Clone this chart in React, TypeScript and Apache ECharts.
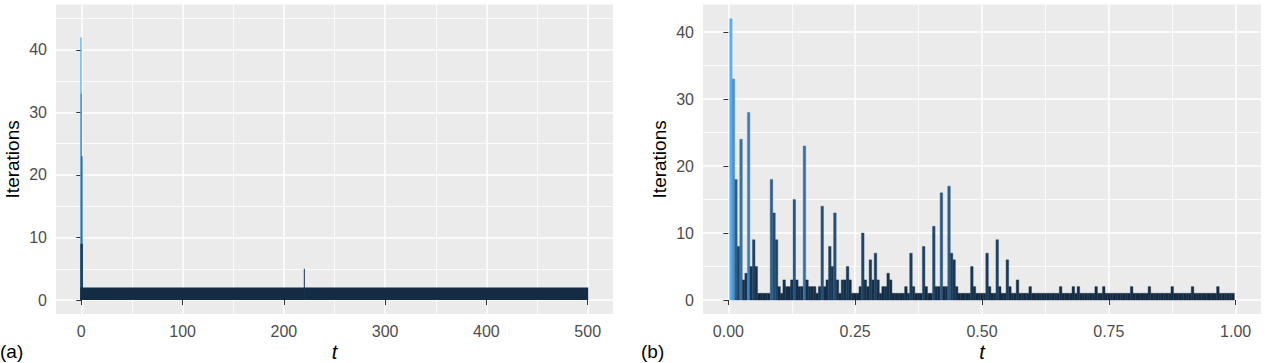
import React, { useEffect, useRef } from "react";
import * as echarts from "echarts";

// ---------- Data ----------
// Panel (a): time segments [start, end] with iteration counts (t from 0 to 500)
const A_START = [-1.0, -0.7, -0.4, -1.0, -1.0, 219.7];
const A_END = [0.3, 0.6, 1.3, 1.6, 500.5, 220.7];
const A_ITER = [42, 33, 23, 9, 2, 5];
const A_X_TICKS = [0, 100, 200, 300, 400, 500];

// Panel (b): one bar per time step (dt = 0.005), t from 0.005 to 0.995
const B_DT = 0.005;
const B_ITER = [
  42, 33, 18, 8, 24, 3, 4, 28, 5, 9,
  5, 1, 1, 1, 1, 1, 18, 13, 9, 2,
  1, 3, 2, 2, 3, 15, 3, 2, 2, 23,
  3, 2, 2, 2, 1, 2, 14, 2, 3, 8,
  5, 13, 3, 1, 3, 3, 5, 3, 1, 1,
  1, 2, 10, 3, 2, 6, 3, 7, 3, 1,
  2, 2, 4, 3, 1, 1, 1, 1, 1, 2,
  1, 7, 2, 1, 1, 1, 8, 2, 1, 1,
  11, 2, 2, 16, 2, 2, 17, 7, 6, 2,
  1, 1, 1, 1, 1, 5, 2, 1, 1, 1,
  1, 7, 2, 1, 1, 9, 2, 1, 1, 6,
  2, 1, 1, 3, 1, 1, 1, 1, 2, 1,
  1, 1, 1, 1, 1, 1, 1, 1, 1, 1,
  2, 1, 1, 1, 1, 2, 1, 2, 1, 1,
  1, 1, 1, 1, 2, 1, 1, 2, 1, 1,
  1, 1, 1, 1, 1, 1, 1, 1, 2, 1,
  1, 1, 1, 1, 1, 2, 1, 1, 1, 1,
  1, 1, 1, 1, 2, 1, 1, 1, 1, 1,
  1, 1, 2, 1, 1, 1, 1, 1, 1, 1,
  1, 1, 2, 1, 1, 1, 1, 1, 1,
];
const B_X_TICKS = [0, 0.25, 0.5, 0.75, 1.0];
const Y_TICKS = [0, 10, 20, 30, 40];

// ---------- Styling helpers ----------
const FONT = "'Liberation Sans', Arial, Helvetica, sans-serif";
const LOW = "#132B43";
const HIGH = "#56B1F7";
// panel (b)'s x axis is measured in quarter units of t so that ticks fall at 0.25 steps
const B_SCALE = 4;

function hexToRgb(h: string) {
  const n = parseInt(h.slice(1), 16);
  return [(n >> 16) & 255, (n >> 8) & 255, n & 255];
}
function toLin(c: number) {
  c /= 255;
  return c <= 0.04045 ? c / 12.92 : Math.pow((c + 0.055) / 1.055, 2.4);
}
function fromLin(c: number) {
  const v = c <= 0.0031308 ? 12.92 * c : 1.055 * Math.pow(c, 1 / 2.4) - 0.055;
  return Math.round(Math.max(0, Math.min(1, v)) * 255);
}
const WX = 0.95047, WY = 1.0, WZ = 1.08883;
function f(t: number) {
  return t > 0.008856 ? Math.cbrt(t) : 7.787 * t + 16 / 116;
}
function finv(t: number) {
  const t3 = t * t * t;
  return t3 > 0.008856 ? t3 : (t - 16 / 116) / 7.787;
}
function rgbToLab(rgb: number[]) {
  const r = toLin(rgb[0]), g = toLin(rgb[1]), b = toLin(rgb[2]);
  const X = 0.4124564 * r + 0.3575761 * g + 0.1804375 * b;
  const Y = 0.2126729 * r + 0.7151522 * g + 0.072175 * b;
  const Z = 0.0193339 * r + 0.119192 * g + 0.9503041 * b;
  const fx = f(X / WX), fy = f(Y / WY), fz = f(Z / WZ);
  return [116 * fy - 16, 500 * (fx - fy), 200 * (fy - fz)];
}
function labToHex(lab: number[]) {
  const fy = (lab[0] + 16) / 116;
  const fx = fy + lab[1] / 500;
  const fz = fy - lab[2] / 200;
  const X = finv(fx) * WX, Y = finv(fy) * WY, Z = finv(fz) * WZ;
  const r = 3.2404542 * X - 1.5371385 * Y - 0.4985314 * Z;
  const g = -0.969266 * X + 1.8760108 * Y + 0.041556 * Z;
  const b = 0.0556434 * X - 0.2040259 * Y + 1.0572252 * Z;
  const hx = (v: number) => fromLin(v).toString(16).padStart(2, "0");
  return "#" + hx(r) + hx(g) + hx(b);
}
const LAB_LOW = rgbToLab(hexToRgb(LOW));
const LAB_HIGH = rgbToLab(hexToRgb(HIGH));
function gradient(v: number, lo: number, hi: number) {
  const p = Math.max(0, Math.min(1, (v - lo) / (hi - lo)));
  return labToHex([0, 1, 2].map((i) => LAB_LOW[i] + (LAB_HIGH[i] - LAB_LOW[i]) * p));
}

function makeRender(lo: number, hi: number, strokeW: number) {
  return (params: any, api: any) => {
    const x0 = api.value(0), x1 = api.value(1), v = api.value(2);
    const p0 = api.coord([x0, v]);
    const p1 = api.coord([x1, 0]);
    const c = gradient(v, lo, hi);
    return {
      type: "rect",
      shape: { x: p0[0], y: p0[1], width: p1[0] - p0[0], height: p1[1] - p0[1] },
      style: { fill: c, stroke: strokeW > 0 ? c : null, lineWidth: strokeW },
    };
  };
}

function xAxis(gridIndex: number, min: number, max: number, ticks: number[], fmt: (v: number) => string) {
  return {
    type: "value",
    gridIndex,
    min,
    max,
    splitNumber: 5,
    axisLine: { show: false },
    axisTick: { show: true, length: 5, lineStyle: { color: "#333333", width: 1 }, customValues: ticks },
    axisLabel: {
      show: true,
      customValues: ticks,
      color: "#4D4D4D",
      fontSize: 16,
      fontFamily: FONT,
      margin: 9,
      formatter: (v: number) => (ticks.some((t) => Math.abs(t - v) < 1e-9) ? fmt(v) : ""),
    },
    splitLine: { show: true, lineStyle: { color: "#FFFFFF", width: 1.5 } },
    minorTick: { show: false, splitNumber: 2 },
    minorSplitLine: { show: true, lineStyle: { color: "#FFFFFF", width: 0.8 } },
  };
}
function yAxis(gridIndex: number, min: number, max: number) {
  return {
    type: "value",
    gridIndex,
    min,
    max,
    splitNumber: 5,
    axisLine: { show: false },
    axisTick: { show: true, length: 5, lineStyle: { color: "#333333", width: 1 }, customValues: Y_TICKS },
    axisLabel: {
      show: true,
      customValues: Y_TICKS,
      color: "#4D4D4D",
      fontSize: 16,
      fontFamily: FONT,
      margin: 9,
      formatter: (v: number) => (Y_TICKS.indexOf(v) >= 0 ? String(v) : ""),
    },
    splitLine: { show: true, lineStyle: { color: "#FFFFFF", width: 1.5 } },
    minorTick: { show: false, splitNumber: 2 },
    minorSplitLine: { show: true, lineStyle: { color: "#FFFFFF", width: 0.8 } },
  };
}

export default function App() {
  const ref = useRef<HTMLDivElement>(null);
  useEffect(() => {
    if (!ref.current) return;
    const chart = echarts.init(ref.current, null, { renderer: "svg" });

    const aData = A_ITER.map((v, i) => [A_START[i], A_END[i], v]);
    const bData = B_ITER.map((v, i) => [
      (i + 0.5) * B_DT * B_SCALE,
      (i + 1.5) * B_DT * B_SCALE,
      v,
    ]);
    const aLo = Math.min(...A_ITER), aHi = Math.max(...A_ITER);
    const bLo = Math.min(...B_ITER), bHi = Math.max(...B_ITER);

    const gA = { left: 56, top: 4.6, width: 557, height: 309.5 };
    const gB = { left: 703, top: 4.6, width: 558, height: 309.5 };
    const titleY = gA.top + gA.height / 2;

    chart.setOption({
      animation: false,
      backgroundColor: "#FFFFFF",
      grid: [
        { ...gA, containLabel: false, outerBoundsMode: "none", show: true, backgroundColor: "#EBEBEB", borderWidth: 0 },
        { ...gB, containLabel: false, outerBoundsMode: "none", show: true, backgroundColor: "#EBEBEB", borderWidth: 0 },
      ],
      xAxis: [
        xAxis(0, -25, 525, A_X_TICKS, (v) => String(v)),
        xAxis(1, -0.05 * B_SCALE, 1.05 * B_SCALE, B_X_TICKS.map((t) => t * B_SCALE), (v) => (v / B_SCALE).toFixed(2)),
      ],
      yAxis: [yAxis(0, -2.25, 47.25), yAxis(1, -2.1, 44.1)],
      series: [
        {
          type: "custom",
          xAxisIndex: 0,
          yAxisIndex: 0,
          data: aData,
          encode: { x: [0, 1], y: 2 },
          renderItem: makeRender(aLo, aHi, 0),
          clip: true,
          silent: true,
        },
        {
          type: "custom",
          xAxisIndex: 1,
          yAxisIndex: 1,
          data: bData,
          encode: { x: [0, 1], y: 2 },
          renderItem: makeRender(bLo, bHi, 0.4),
          clip: true,
          silent: true,
        },
      ],
      graphic: [
        {
          type: "text", x: 12, y: titleY, rotation: Math.PI / 2,
          style: { text: "Iterations", fontSize: 19, fontFamily: FONT, fill: "#000000", align: "center", verticalAlign: "middle" },
        },
        {
          type: "text", x: gA.left + gA.width / 2, y: 352,
          style: { text: "t", fontSize: 20, fontStyle: "italic", fontFamily: FONT, fill: "#000000", align: "center", verticalAlign: "middle" },
        },
        {
          type: "text", x: 0, y: 351,
          style: { text: "(a)", fontSize: 19, fontFamily: FONT, fill: "#000000", align: "left", verticalAlign: "middle" },
        },
        {
          type: "text", x: 659, y: titleY, rotation: Math.PI / 2,
          style: { text: "Iterations", fontSize: 19, fontFamily: FONT, fill: "#000000", align: "center", verticalAlign: "middle" },
        },
        {
          type: "text", x: gB.left + gB.width / 2, y: 352,
          style: { text: "t", fontSize: 20, fontStyle: "italic", fontFamily: FONT, fill: "#000000", align: "center", verticalAlign: "middle" },
        },
        {
          type: "text", x: 641, y: 351,
          style: { text: "(b)", fontSize: 19, fontFamily: FONT, fill: "#000000", align: "left", verticalAlign: "middle" },
        },
      ],
    });
    return () => chart.dispose();
  }, []);

  return (
    <div
      ref={ref}
      style={{ position: "absolute", left: 0, top: 0, width: 1268, height: 363 }}
    />
  );
}
